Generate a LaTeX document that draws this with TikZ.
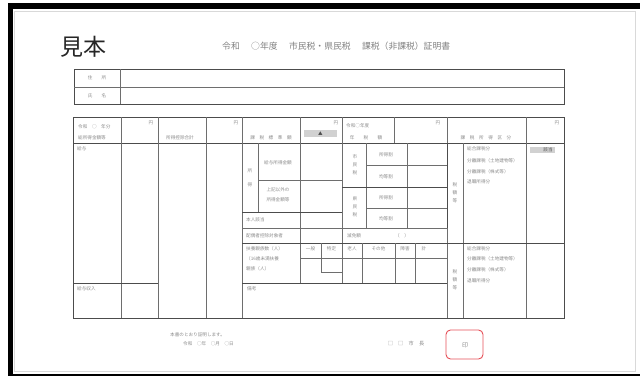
\documentclass[tikz,border=0pt]{standalone}
\usepackage{fontspec}
\setmainfont{Noto Sans CJK JP}
\definecolor{txtgray}{HTML}{8A8A8A}
\definecolor{lngray}{HTML}{6E6E6E}
\definecolor{stampred}{HTML}{E0303A}
\begin{document}
\begin{tikzpicture}[x=1pt,y=-1pt,
  ln/.style={draw=lngray, line width=0.6pt},
  thk/.style={draw=black!70, line width=1pt},
  tx/.style={font=\fontsize{4.6}{5.5}\selectfont, text=txtgray, inner sep=0pt},
  vtx/.style={font=\fontsize{4.6}{8}\selectfont, text=txtgray, inner sep=0pt, align=center},
  greybox/.style={fill=black!18, draw=none}]
\useasboundingbox (0,0) rectangle (640,376);
% outer frame
\fill[black] (8,3) rectangle (640,9);
\fill[black] (8,3) rectangle (13,376);
\fill[black] (8,373.5) rectangle (640,376);
\draw[black!15, line width=0.8pt] (14.5,11) rectangle (635,371);
% title
\node[font=\fontsize{23}{23}\selectfont, text=black!85, inner sep=0pt] (mihon) at (83,47) {見本};
\node[font=\fontsize{8.8}{9}\selectfont, text=black!50, inner sep=0pt, anchor=west] (title) at (222,46) {令和\hspace{1.3em}○年度\hspace{1.3em}市民税・県民税\hspace{1.3em}課税（非課税）証明書};
% name table
\draw[thk] (74,69) rectangle (564,104);
\draw[ln] (74,87) -- (564,87);
\draw[ln] (120,69) -- (120,104);
\node[tx] (lbaddr) at (97,78) {住　　所};
\node[tx] (lbname) at (97,95.5) {氏　　名};
% main table outline
\draw[thk] (73,117) rectangle (564,318);
\draw[thk] (73,143) -- (564,143);
% full verticals
\foreach \x in {121,158,206,242,447,526} \draw[ln] (\x,117) -- (\x,318);
\draw[ln] (300,117) -- (300,283);
\draw[ln] (342,117) -- (342,283);
\draw[ln] (394,117) -- (394,143);
\draw[ln] (463,143) -- (463,318);
% income block
\draw[ln] (258,143) -- (258,212);
\draw[ln] (258,180) -- (342,180);
\draw[thk] (242,212) -- (342,212);
\draw[ln] (242,228) -- (447,228);
\draw[thk] (242,243) -- (564,243);
% tax block
\draw[ln] (366,143) -- (366,228);
\draw[ln] (407,143) -- (407,228);
\draw[ln] (366,165) -- (447,165);
\draw[thk] (342,187) -- (447,187);
\draw[ln] (366,208) -- (447,208);
\draw[thk] (447,143) -- (447,228);
% dependants block
\draw[ln] (300,258) -- (447,258);
\draw[ln] (321,243) -- (321,272) -- (342,272);
\foreach \x in {362,395,415} \draw[ln] (\x,243) -- (\x,283);
% remarks and salary boxes
\draw[thk] (242,283) -- (447,283);
\draw[thk] (73,283) -- (158,283);
% header texts
\node[tx, anchor=west] (h1a) at (78,127) {令和　○　年分};
\node[tx, anchor=west] (h1b) at (78,138) {総所得金額等};
\node[tx] (h2) at (151,123) {円};
\node[tx] (h3) at (180,138) {所得控除合計};
\node[tx] (h4) at (236,123) {円};
\node[tx] (h5) at (271,138) {課　税　標　準　額};
\node[tx] (h6) at (336,123) {円};
\fill[greybox] (304,130) rectangle (337,137);
\node[tx, text=black!70] (h6b) at (320.5,133.5) {▲};
\node[tx, anchor=west] (h7a) at (346,126) {令和○年度};
\node[tx] (h7b) at (366,138) {年　　税　　額};
\node[tx] (h8) at (438,123) {円};
\node[tx] (h9) at (486,138) {課　税　所　得　区　分};
\node[tx] (h10) at (557,123) {円};
% body texts
\node[tx, anchor=west] (b1) at (77,149) {給与};
\node[vtx] (b2) at (250,178) {所\\[6pt]得};
\node[tx] (b3) at (278,163) {給与所得金額};
\node[tx] (b4a) at (278,190) {上記以外の};
\node[tx] (b4b) at (278,200) {所得金額等};
\node[tx, anchor=west] (b5) at (246,220) {本人該当};
\node[tx, anchor=west] (b6) at (246,235.5) {配偶者控除対象者};
\node[tx, anchor=west] (b7) at (347,235.5) {減免額};
\node[tx] (b8) at (402,235.5) {（　）};
\node[vtx] (b9) at (355,165) {市\\民\\税};
\node[vtx] (b10) at (355,207) {県\\民\\税};
\node[tx] (b11) at (386,154.5) {所得割};
\node[tx] (b12) at (386,176.5) {均等割};
\node[tx] (b13) at (386,197.5) {所得割};
\node[tx] (b14) at (386,218.5) {均等割};
\node[vtx] (b15) at (455,193) {税\\額\\等};
\node[tx, anchor=west] (b16) at (467,149) {総合課税分};
\node[tx, anchor=west] (b17) at (467,160.5) {分離課税（土地建物等）};
\node[tx, anchor=west] (b18) at (467,171.5) {分離課税（株式等）};
\node[tx, anchor=west] (b19) at (467,182) {退職所得分};
\fill[greybox] (530,147) rectangle (555,153);
\node[tx, text=black!65] (b20) at (548,150) {該当};
% dependants texts
\node[tx, anchor=west] (d1) at (246,249) {扶養親族数（人）};
\node[tx, anchor=west] (d2) at (246,259) {（16歳未満扶養};
\node[tx, anchor=west] (d3) at (246,269) {親族（人）};
\node[tx] (d4) at (310.5,249) {一般};
\node[tx] (d5) at (331.5,249) {特定};
\node[tx] (d6) at (352,249) {老人};
\node[tx] (d7) at (378.5,249) {その他};
\node[tx] (d8) at (405,249) {障害};
\node[tx] (d9) at (424,249) {計};
\node[vtx] (d10) at (455,280) {税\\額\\等};
\node[tx, anchor=west] (d11) at (467,248.5) {総合課税分};
\node[tx, anchor=west] (d12) at (467,259) {分離課税（土地建物等）};
\node[tx, anchor=west] (d13) at (467,270) {分離課税（株式等）};
\node[tx, anchor=west] (d14) at (467,281) {退職所得分};
\node[tx, anchor=west] (s1) at (77,289) {給与収入};
\node[tx, anchor=west] (s2) at (247,289) {備考};
% certification
\node[tx, anchor=west] (c1) at (170,335) {本書のとおり証明します。};
\node[tx, anchor=west] (c2) at (183,343.5) {令和　○年　○月　○日};
\node[tx, font=\fontsize{5.2}{6}\selectfont] (c3) at (406,344) {□　□　市　長};
\draw[stampred!85, line width=0.9pt, rounded corners=4.5pt] (446,330) rectangle (483,359);
\node[tx, font=\fontsize{6}{7}\selectfont] (c4) at (465,345) {印};
\end{tikzpicture}
\end{document}
